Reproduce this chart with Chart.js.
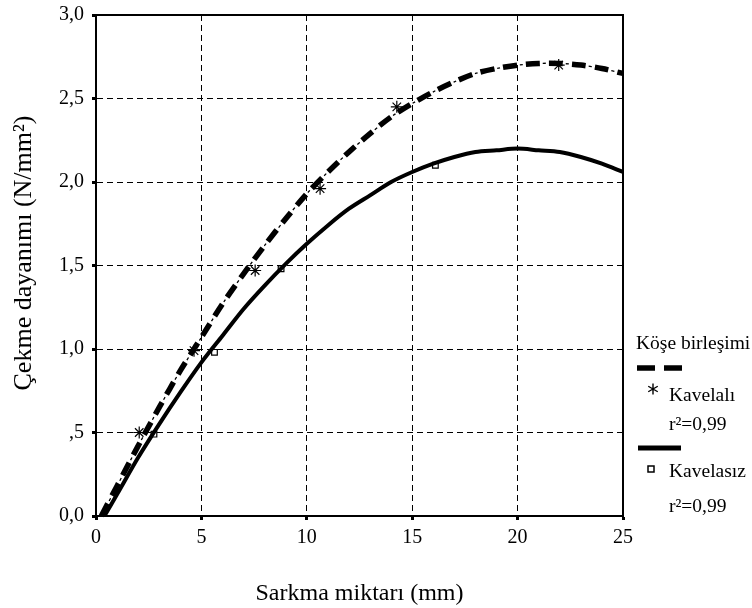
<!DOCTYPE html>
<html lang="tr">
<head>
    <meta charset="UTF-8">
    <title>Çekme dayanımı</title>
    <style>
        body {
            margin: 0;
            background: #fff;
        }
        #wrap {
            width: 752px;
            height: 608px;
            position: relative;
        }
    </style>
</head>
<body>
    <div id="wrap">
        <canvas id="chart" width="752" height="608"></canvas>
    </div>

    <script src="https://cdn.jsdelivr.net/npm/chart.js"></script>

    <script>
        // measured points (sarkma mm, dayanım N/mm2)
        const kavelaliX = [2.05, 4.65, 7.55, 10.63, 14.27, 21.95];
        const kavelaliY = [0.50, 0.99, 1.47, 1.96, 2.45, 2.70];
        const kavelasizX = [2.75, 5.62, 8.78, 16.1];
        const kavelasizY = [0.49, 0.98, 1.48, 2.10];

        // fitted curves
        const fitX = [0.25, 1, 2, 3, 4, 5, 6, 7, 8, 9, 10, 11, 12, 13, 14, 15, 16, 17, 18, 19, 20, 21, 22, 23, 24, 25];
        const fitKavelaliY = [0, 0.18, 0.42, 0.65, 0.87, 1.07, 1.27, 1.45, 1.62, 1.78, 1.93, 2.06, 2.18, 2.29, 2.39, 2.47, 2.54, 2.60, 2.65, 2.68, 2.70, 2.71, 2.71, 2.70, 2.68, 2.65];
        const fitKavelasizY = [0, 0.13, 0.35, 0.55, 0.74, 0.92, 1.08, 1.24, 1.38, 1.51, 1.63, 1.74, 1.84, 1.92, 2.00, 2.06, 2.11, 2.15, 2.18, 2.19, 2.20, 2.19, 2.18, 2.15, 2.11, 2.06];
        const fitKavelasizStartX = 0.4;

        const xTicks = [0, 5, 10, 15, 20, 25];
        const yTicks = [0, 0.5, 1, 1.5, 2, 2.5, 3];
        const yTickLabels = ['0,0', ',5', '1,0', '1,5', '2,0', '2,5', '3,0'];

        const serif = '"Liberation Serif", "DejaVu Serif", serif';

        function pairs(xs, ys) {
            return xs.map((x, i) => ({ x: x, y: ys[i] }));
        }

        const kavelasizFitX = fitX.slice();
        kavelasizFitX[0] = fitKavelasizStartX;

        // full box, y title and the legend on the right
        const extras = {
            id: 'extras',
            afterDraw(chart) {
                const ctx = chart.ctx;
                const a = chart.chartArea;
                ctx.save();
                ctx.strokeStyle = '#000';
                ctx.lineWidth = 2;
                ctx.setLineDash([]);
                ctx.strokeRect(a.left, a.top, a.right - a.left, a.bottom - a.top);

                ctx.fillStyle = '#000';

                // y axis title
                ctx.save();
                ctx.translate(24, 253);
                ctx.rotate(-Math.PI / 2);
                ctx.font = '26px ' + serif;
                ctx.textAlign = 'center';
                ctx.textBaseline = 'middle';
                ctx.fillText('Çekme dayanımı (N/mm²)', 0, 0);
                ctx.restore();

                ctx.font = '19.5px ' + serif;
                ctx.textBaseline = 'middle';
                ctx.textAlign = 'left';
                ctx.fillText('Köşe birleşimi', 636, 344);

                ctx.lineWidth = 5.5;
                ctx.beginPath();
                ctx.moveTo(637, 368); ctx.lineTo(655, 368);
                ctx.moveTo(664, 368); ctx.lineTo(682, 368);
                ctx.stroke();

                // asterisk
                ctx.lineWidth = 1.4;
                ctx.beginPath();
                for (let k = 0; k < 3; k++) {
                    const ang = Math.PI / 2 + k * Math.PI / 3;
                    ctx.moveTo(653 - 5.5 * Math.cos(ang), 389 - 5.5 * Math.sin(ang));
                    ctx.lineTo(653 + 5.5 * Math.cos(ang), 389 + 5.5 * Math.sin(ang));
                }
                ctx.stroke();
                ctx.fillText('Kavelalı', 669, 396);
                ctx.fillText('r²=0,99', 669, 425);

                ctx.lineWidth = 5;
                ctx.beginPath();
                ctx.moveTo(638, 448); ctx.lineTo(681, 448);
                ctx.stroke();

                ctx.lineWidth = 1.5;
                ctx.strokeRect(648, 466, 6, 6);
                ctx.fillText('Kavelasız', 669, 472);
                ctx.fillText('r²=0,99', 669, 507);
                ctx.restore();
            }
        };

        const gridOpts = {
            color: '#000',
            lineWidth: 1,
            drawTicks: true,
            tickLength: 4,
            tickWidth: 3,
            tickColor: '#000',
            tickBorderDash: []
        };

        new Chart(document.getElementById('chart'), {
            type: 'line',
            data: {
                datasets: [
                    {
                        label: 'Kavelalı fit',
                        data: pairs(fitX, fitKavelaliY),
                        borderColor: '#000',
                        borderWidth: 5.5,
                        borderDash: [14, 9],
                        pointRadius: 0,
                        tension: 0.3,
                        fill: false
                    },
                    {
                        label: 'Kavelalı fit ince',
                        data: pairs(fitX, fitKavelaliY),
                        borderColor: '#000',
                        borderWidth: 1.3,
                        borderDash: [3, 20],
                        borderDashOffset: 6,
                        pointRadius: 0,
                        tension: 0.3,
                        fill: false
                    },
                    {
                        label: 'Kavelasız fit',
                        data: pairs(kavelasizFitX, fitKavelasizY),
                        borderColor: '#000',
                        borderWidth: 4,
                        pointRadius: 0,
                        tension: 0.3,
                        fill: false
                    },
                    {
                        label: 'Kavelalı',
                        data: pairs(kavelaliX, kavelaliY),
                        showLine: false,
                        pointStyle: 'star',
                        pointRadius: 6,
                        pointBorderWidth: 1.2,
                        pointBorderColor: '#000',
                        pointBackgroundColor: '#000'
                    },
                    {
                        label: 'Kavelasız',
                        data: pairs(kavelasizX, kavelasizY),
                        showLine: false,
                        pointStyle: 'rect',
                        pointRadius: 4,
                        pointBorderWidth: 1.2,
                        pointBorderColor: '#000',
                        pointBackgroundColor: '#fff'
                    }
                ]
            },
            options: {
                responsive: false,
                animation: false,
                clip: 3,
                layout: { padding: { top: 15, right: 129, left: 0, bottom: 0 } },
                plugins: {
                    legend: { display: false },
                    tooltip: { enabled: false }
                },
                scales: {
                    x: {
                        type: 'linear',
                        min: 0,
                        max: 25,
                        afterFit(scale) { scale.height = 92; },
                        afterBuildTicks(scale) { scale.ticks = xTicks.map(v => ({ value: v })); },
                        ticks: {
                            color: '#000',
                            font: { family: serif, size: 20 },
                            padding: 6
                        },
                        grid: gridOpts,
                        border: { color: '#000', width: 2, dash: [6, 4] },
                        title: {
                            display: true,
                            text: 'Sarkma miktarı (mm)',
                            color: '#000',
                            font: { family: serif, size: 24 },
                            padding: { top: 0, bottom: 0 }
                        }
                    },
                    y: {
                        type: 'linear',
                        min: 0,
                        max: 3,
                        afterFit(scale) {
                            scale.width = 96;
                            scale.paddingTop = 0;
                            scale.paddingBottom = 0;
                        },
                        afterBuildTicks(scale) { scale.ticks = yTicks.map(v => ({ value: v })); },
                        ticks: {
                            color: '#000',
                            font: { family: serif, size: 20, lineHeight: 1 },
                            padding: 8,
                            callback: (v) => yTickLabels[yTicks.indexOf(v)]
                        },
                        grid: gridOpts,
                        border: { color: '#000', width: 2, dash: [6, 4] },
                        title: { display: false }
                    }
                }
            },
            plugins: [extras]
        });
    </script>
</body>
</html>
